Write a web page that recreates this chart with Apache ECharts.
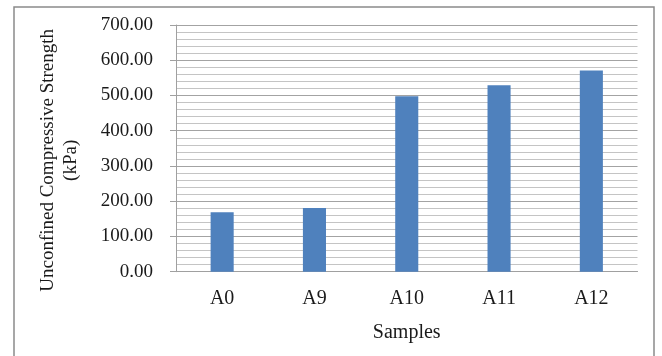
<!DOCTYPE html>
<html>
<head>
<meta charset="utf-8">
<script src="https://cdn.jsdelivr.net/npm/echarts@6/dist/echarts.min.js"></script>
<style>
html,body{margin:0;padding:0;background:#fff;}
#chart{width:662px;height:356px;}
</style>
</head>
<body>
<div id="chart"></div>
<script>
var categories = ['A0', 'A9', 'A10', 'A11', 'A12'];
var strengthValues = [169, 181, 498, 529, 571];
var yTicks = [0, 100, 200, 300, 400, 500, 600, 700];
var xTitle = 'Samples';
var yTitle = 'Unconfined Compressive Strength\n(kPa)';

var fontFam = '"Liberation Serif", "Times New Roman", serif';
var chart = echarts.init(document.getElementById('chart'), null, {renderer: 'canvas'});
chart.setOption({
  animation: false,
  backgroundColor: '#ffffff',
  graphic: [{
    type: 'rect',
    shape: {x: 14, y: 7, width: 640, height: 360},
    style: {fill: 'none', stroke: '#8a8a8a', lineWidth: 1.5},
    silent: true
  }],
  grid: {left: 176, right: 24.5, top: 25, bottom: 84.3, containLabel: false},
  xAxis: {
    type: 'category',
    data: categories,
    name: xTitle,
    nameLocation: 'middle',
    nameGap: 51,
    nameTextStyle: {fontFamily: fontFam, fontSize: 20, color: '#1a1a1a'},
    axisLine: {lineStyle: {color: '#a0a0a0', width: 1}},
    axisTick: {show: false},
    axisLabel: {fontFamily: fontFam, fontSize: 20, color: '#1a1a1a', margin: 17},
    splitLine: {show: false}
  },
  yAxis: {
    type: 'value',
    min: yTicks[0],
    max: yTicks[yTicks.length - 1],
    interval: 100,
    name: yTitle,
    nameLocation: 'middle',
    nameRotate: 90,
    nameGap: 93,
    nameTextStyle: {fontFamily: fontFam, fontSize: 19, color: '#1a1a1a', lineHeight: 23, padding: [0, 24, 0, 0]},
    axisLine: {show: true, lineStyle: {color: '#a0a0a0', width: 1}},
    axisTick: {show: true, length: 6, lineStyle: {color: '#a0a0a0'}},
    axisLabel: {
      fontFamily: fontFam, fontSize: 19, color: '#1a1a1a', margin: 23,
      formatter: function (v) { return v.toFixed(2); }
    },
    splitLine: {show: true, lineStyle: {color: '#a3a3a3', width: 1}},
    minorTick: {show: false, splitNumber: 5},
    minorSplitLine: {show: true, lineStyle: {color: '#c4c4c4', width: 1}}
  },
  series: [{
    type: 'bar',
    data: strengthValues,
    barWidth: '25%',
    itemStyle: {color: '#4f81bd'}
  }]
});
</script>
</body>
</html>
